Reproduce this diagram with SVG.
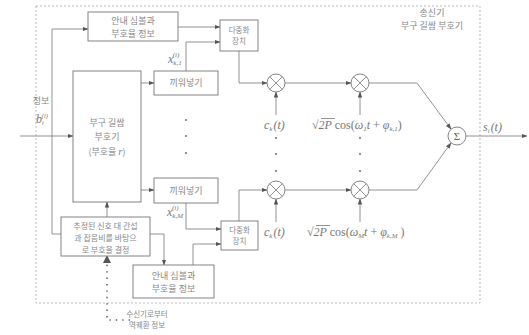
<svg xmlns="http://www.w3.org/2000/svg" width="529" height="335" viewBox="0 0 529 335">
<defs>
<marker id="ah" markerWidth="6" markerHeight="6" refX="5.5" refY="3" orient="auto" markerUnits="userSpaceOnUse">
<path d="M0,0.8 L6,3 L0,5.2 Z" fill="#555"/>
</marker>
</defs>
<style>
.bx{fill:#fff;stroke:#777;stroke-width:0.9}
.ln{fill:none;stroke:#777;stroke-width:0.8}
.kt{font-family:"Noto Sans CJK KR","Noto Sans",sans-serif;font-size:9px;fill:#888;text-anchor:middle}
.sm{font-size:7.5px}
.md{font-size:8px}
.mt{font-family:"Liberation Serif",serif;font-size:12px;fill:#777;font-style:italic}
.rm{font-style:normal}
.dot{fill:#777}
</style>
<rect width="529" height="335" fill="#fff"/>
<rect x="36" y="6" width="444" height="297" fill="none" stroke="#aaa" stroke-width="0.8" stroke-dasharray="2,2"/>

<g id="connectors">
<path class="ln" d="M20,136 H73" marker-end="url(#ah)"/>
<path class="ln" d="M61,234 H52 V29 H88" marker-end="url(#ah)"/>
<path class="ln" d="M178,27 H220" marker-end="url(#ah)"/>
<path class="ln" d="M186,71 V42 H220" marker-end="url(#ah)"/>
<path class="ln" d="M141,83 H154" marker-end="url(#ah)"/>
<path class="ln" d="M141,190 H154" marker-end="url(#ah)"/>
<path class="ln" d="M107,217 V202" marker-end="url(#ah)"/>
<path class="ln" d="M150,234 H164 V265" marker-end="url(#ah)"/>
<path class="ln" d="M186,203 V229 H221" marker-end="url(#ah)"/>
<path class="ln" d="M193,265 V244 H221" marker-end="url(#ah)"/>
<path class="ln" d="M239,51 V83 H267" marker-end="url(#ah)"/>
<path class="ln" d="M239,221 V190 H267" marker-end="url(#ah)"/>
<path class="ln" d="M285,83 H351" marker-end="url(#ah)"/>
<path class="ln" d="M285,190 H351" marker-end="url(#ah)"/>
<path class="ln" d="M276,115 V92" marker-end="url(#ah)"/>
<path class="ln" d="M276,222 V199" marker-end="url(#ah)"/>
<path class="ln" d="M360,115 V92" marker-end="url(#ah)"/>
<path class="ln" d="M360,222 V199" marker-end="url(#ah)"/>
<path class="ln" d="M369,83 H417 L451,129" marker-end="url(#ah)"/>
<path class="ln" d="M369,190 H417 L451,143" marker-end="url(#ah)"/>
<path class="ln" d="M466,136 H527" marker-end="url(#ah)"/>
<path fill="none" stroke="#666" stroke-width="1.6" stroke-dasharray="1.4,5" d="M130,320 H107 V262"/>
<path d="M103,263 L107,255 L111,263 Z" fill="#555"/>
</g>

<g id="pilot-top">
<rect class="bx" x="88" y="12" width="90" height="29"/>
<text class="kt" x="133" y="24">안내 심볼과</text>
<text class="kt" x="133" y="37">부호율 정보</text>
</g>
<g id="mux-1">
<rect class="bx" x="220" y="20" width="38" height="31"/>
<text class="kt sm" x="239" y="33">다중화</text>
<text class="kt sm" x="239" y="44">장치</text>
</g>
<g id="interleaver-1">
<rect class="bx" x="154" y="71" width="64" height="24"/>
<text class="kt" x="186" y="86">끼워넣기</text>
</g>
<g id="encoder">
<rect class="bx" x="73" y="71" width="68" height="131"/>
<text class="kt" x="107" y="126">부구 길쌈</text>
<text class="kt" x="107" y="140">부호기</text>
<text class="kt" x="107" y="155">(부호율 <tspan font-family="Liberation Serif" font-style="italic" font-size="11">r</tspan>)</text>
</g>
<g id="interleaver-M">
<rect class="bx" x="154" y="178" width="64" height="25"/>
<text class="kt" x="186" y="194">끼워넣기</text>
</g>
<g id="rate-decision">
<rect class="bx" x="61" y="217" width="89" height="39"/>
<text class="kt md" x="105.5" y="229">추정된 신호 대 간섭</text>
<text class="kt md" x="105.5" y="241">과 잡음비를 바탕으</text>
<text class="kt md" x="105.5" y="253">로 부호율 결정</text>
</g>
<g id="pilot-bottom">
<rect class="bx" x="133" y="265" width="81" height="33"/>
<text class="kt" x="173.5" y="279">안내 심볼과</text>
<text class="kt" x="173.5" y="292">부호율 정보</text>
</g>
<g id="mux-M">
<rect class="bx" x="221" y="221" width="37" height="29"/>
<text class="kt sm" x="239.5" y="233">다중화</text>
<text class="kt sm" x="239.5" y="244">장치</text>
</g>
<g id="mult-1">
<circle class="bx" cx="276" cy="83" r="9"/>
<path class="ln" d="M269.6,76.6 L282.4,89.4 M282.4,76.6 L269.6,89.4"/>
</g>
<g id="mult-2">
<circle class="bx" cx="360" cy="83" r="9"/>
<path class="ln" d="M353.6,76.6 L366.4,89.4 M366.4,76.6 L353.6,89.4"/>
</g>
<g id="mult-3">
<circle class="bx" cx="276" cy="190" r="9"/>
<path class="ln" d="M269.6,183.6 L282.4,196.4 M282.4,183.6 L269.6,196.4"/>
</g>
<g id="mult-4">
<circle class="bx" cx="360" cy="190" r="9"/>
<path class="ln" d="M353.6,183.6 L366.4,196.4 M366.4,183.6 L353.6,196.4"/>
</g>
<g id="sum">
<circle class="bx" cx="457" cy="136" r="9"/>
<text x="457" y="140" font-family="Liberation Serif,serif" font-size="11" fill="#666" text-anchor="middle">Σ</text>
</g>

<g id="labels">
<text class="kt" x="41" y="104">정보</text>
<text class="mt" x="36" y="123">b<tspan font-size="6.5" dy="2">t</tspan><tspan font-size="6.5" dx="-2" dy="-7">(i)</tspan></text>
<text class="mt" x="168" y="63">x<tspan font-size="7" dy="2">k,1</tspan><tspan font-size="7" dx="-9" dy="-8">(i)</tspan></text>
<text class="mt" x="167" y="216">x<tspan font-size="7" dy="2">k,M</tspan><tspan font-size="7" dx="-11" dy="-8">(i)</tspan></text>
<text class="kt" x="432" y="16">송신기</text>
<text class="kt" x="432" y="29">부구 길쌈 부호기</text>
<text class="mt" x="483" y="131">s<tspan font-size="7" dy="2">i</tspan><tspan dy="-2" dx="1">(t)</tspan></text>
<text class="mt" x="264" y="129">c<tspan font-size="7" dy="2">k</tspan><tspan dy="-2" dx="1">(t)</tspan></text>
<text class="mt" x="264" y="236">c<tspan font-size="7" dy="2">k</tspan><tspan dy="-2" dx="1">(t)</tspan></text>
<text class="mt" x="312" y="129"><tspan class="rm">√</tspan>2P <tspan class="rm">cos(</tspan>ω<tspan font-size="7" dy="2">1</tspan><tspan dy="-2">t</tspan><tspan class="rm"> + </tspan>φ<tspan font-size="7" dy="2">k,1</tspan><tspan class="rm" dy="-2">)</tspan></text>
<path class="ln" d="M321,118.5 H335"/>
<text class="mt" x="307" y="236"><tspan class="rm">√</tspan>2P <tspan class="rm">cos(</tspan>ω<tspan font-size="7" dy="2">M</tspan><tspan dy="-2">t</tspan><tspan class="rm"> + </tspan>φ<tspan font-size="7" dy="2">k,M</tspan><tspan class="rm" dy="-2"> )</tspan></text>
<path class="ln" d="M316,225.5 H330"/>
<text class="kt sm" x="147" y="317" text-anchor="start">수신기로부터</text>
<text class="kt sm" x="147" y="328" text-anchor="start">역궤환 정보</text>
</g>
<g id="dots">
<circle class="dot" cx="186" cy="120" r="1.1"/>
<circle class="dot" cx="186" cy="136" r="1.1"/>
<circle class="dot" cx="186" cy="153" r="1.1"/>
<circle class="dot" cx="276" cy="138" r="1.1"/>
<circle class="dot" cx="276" cy="154" r="1.1"/>
<circle class="dot" cx="276" cy="171" r="1.1"/>
<circle class="dot" cx="360" cy="138" r="1.1"/>
<circle class="dot" cx="360" cy="154" r="1.1"/>
<circle class="dot" cx="360" cy="171" r="1.1"/>
</g>
</svg>
